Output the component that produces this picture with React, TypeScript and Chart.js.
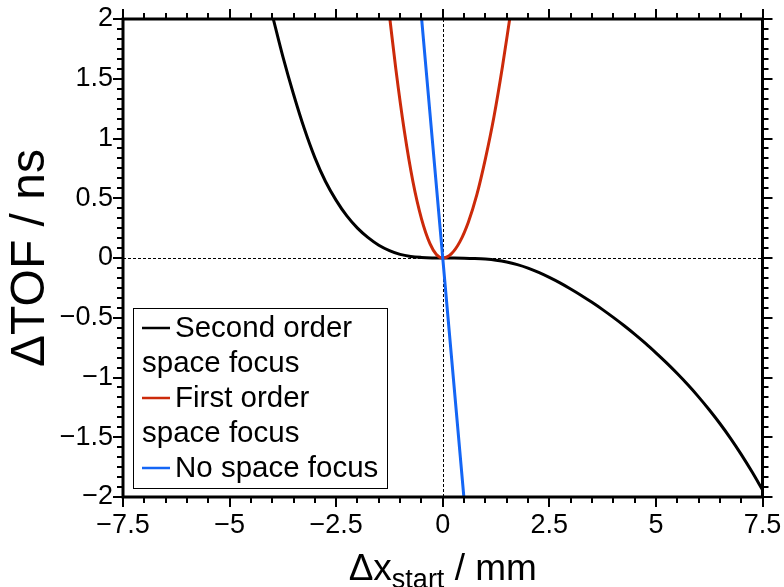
import React, { useEffect, useRef } from 'react';
import { Chart, registerables } from 'chart.js';

Chart.register(...registerables);

// Second order space focus (black)
const secondOrderX = [-3.975, -3.75, -3.5, -3.25, -3.0, -2.75, -2.5, -2.25, -2.0, -1.75, -1.5, -1.25, -1.0, -0.75, -0.5, -0.25, 0,
  0.25, 0.5, 0.75, 1.0, 1.25, 1.5, 1.75, 2.0, 2.25, 2.5, 2.75, 3.0, 3.25, 3.5, 3.75, 4.0, 4.25, 4.5, 4.75, 5.0, 5.25, 5.5, 5.75, 6.0, 6.25, 6.5, 6.75, 7.0, 7.25, 7.5];
const secondOrderY = [2, 1.685, 1.37, 1.085, 0.84, 0.64, 0.482, 0.352, 0.25, 0.17, 0.107, 0.062, 0.03, 0.013, 0.005, 0.001, 0,
  -0.0003, -0.0013, -0.004, -0.009, -0.018, -0.033, -0.055, -0.084, -0.12, -0.162, -0.208, -0.259, -0.313, -0.371, -0.432, -0.497, -0.565, -0.637, -0.713, -0.794, -0.878, -0.967, -1.061, -1.162, -1.27, -1.385, -1.509, -1.643, -1.787, -1.94];

// First order space focus (red)
const firstOrderX = [-1.24, -1.1, -0.9, -0.7, -0.5, -0.3, -0.15, 0, 0.2, 0.4, 0.6, 0.8, 1.0, 1.2, 1.4, 1.57];
const firstOrderY = [2, 1.58, 1.06, 0.64, 0.33, 0.12, 0.03, 0, 0.035, 0.135, 0.3, 0.53, 0.83, 1.18, 1.6, 2];

// No space focus (blue)
const noFocusX = [-0.495, 0, 0.495];
const noFocusY = [2, 0, -2];

const seriesLabels = ['Second order space focus', 'First order space focus', 'No space focus'];
const legendLines = [['Second order', 'space focus'], ['First order', 'space focus'], ['No space focus']];
const seriesColors = ['#000000', '#cc2a0a', '#1466f5'];

const xMin = -7.5, xMax = 7.5, xStep = 2.5;
const yMin = -2, yMax = 2, yStep = 0.5;
const xMinorPerMajor = 5;
const yMinorPerMajor = 6;

const yTitle = 'ΔTOF / ns';
const xTitleMain = 'Δx';
const xTitleSub = 'start';
const xTitleTail = ' / mm';

const FONT = '"Liberation Sans", Arial, Helvetica, sans-serif';

const toPoints = (xs: number[], ys: number[]) => xs.map((x, i) => ({ x, y: ys[i] }));
const fmt = (v: number) => {
  const r = Math.round(v * 1000) / 1000;
  return r < 0 ? '\u2212' + String(-r) : String(r);
};

const zeroPad = (s: any) => {
  s.paddingLeft = 0;
  s.paddingRight = 0;
  s.paddingTop = 0;
  s.paddingBottom = 0;
};

const framePlugin = {
  id: 'igorFrame',
  beforeDatasetsDraw(chart: any) {
    const { ctx, chartArea: a, scales } = chart;
    const x0 = scales.x.getPixelForValue(0);
    const y0 = scales.y.getPixelForValue(0);
    ctx.save();
    ctx.strokeStyle = '#000';
    ctx.lineWidth = 1;
    ctx.setLineDash([3, 2]);
    ctx.beginPath();
    ctx.moveTo(a.left, Math.round(y0) + 0.5);
    ctx.lineTo(a.right, Math.round(y0) + 0.5);
    ctx.moveTo(Math.round(x0) + 0.5, a.top);
    ctx.lineTo(Math.round(x0) + 0.5, a.bottom);
    ctx.stroke();
    ctx.restore();
  },
  afterDatasetsDraw(chart: any) {
    const { ctx, chartArea: a, scales } = chart;
    const xs = scales.x, ys = scales.y;
    ctx.save();
    // ticks
    ctx.strokeStyle = '#000';
    ctx.lineWidth = 2;
    ctx.setLineDash([]);
    ctx.beginPath();
    const nx = Math.round((xMax - xMin) / xStep * xMinorPerMajor);
    for (let i = 0; i <= nx; i++) {
      const v = xMin + (i * xStep) / xMinorPerMajor;
      const p = Math.round(xs.getPixelForValue(v));
      const len = i % xMinorPerMajor === 0 ? 10 : 6;
      ctx.moveTo(p, a.bottom);
      ctx.lineTo(p, a.bottom + len);
      ctx.moveTo(p, a.top);
      ctx.lineTo(p, a.top - len);
    }
    const ny = Math.round((yMax - yMin) / yStep * yMinorPerMajor);
    for (let i = 0; i <= ny; i++) {
      const v = yMin + (i * yStep) / yMinorPerMajor;
      const p = Math.round(ys.getPixelForValue(v));
      const len = i % yMinorPerMajor === 0 ? 10 : 6;
      ctx.moveTo(a.left, p);
      ctx.lineTo(a.left - len, p);
      ctx.moveTo(a.right, p);
      ctx.lineTo(a.right + len, p);
    }
    ctx.stroke();
    // frame
    ctx.lineWidth = 3;
    ctx.lineJoin = 'miter';
    ctx.strokeRect(a.left, a.top, a.right - a.left, a.bottom - a.top);

    // legend
    const lx = 133, ly = 308, lw = 254, lh = 180;
    ctx.fillStyle = '#fff';
    ctx.fillRect(lx, ly, lw, lh);
    ctx.lineWidth = 1;
    ctx.strokeStyle = '#000';
    ctx.strokeRect(lx + 0.5, ly + 0.5, lw, lh);
    ctx.font = `29.5px ${FONT}`;
    ctx.textBaseline = 'middle';
    ctx.textAlign = 'left';
    ctx.fillStyle = '#000';
    let row = 0;
    const rowH = 35;
    legendLines.forEach((lines, si) => {
      lines.forEach((t, li) => {
        const cy = ly + 20 + row * rowH;
        if (li === 0) {
          ctx.strokeStyle = seriesColors[si];
          ctx.lineWidth = 2.5;
          ctx.beginPath();
          ctx.moveTo(142, cy);
          ctx.lineTo(170, cy);
          ctx.stroke();
          ctx.fillText(t, 175, cy + 1);
        } else {
          ctx.fillText(t, 142, cy + 1);
        }
        row++;
      });
    });

    // y title
    ctx.save();
    ctx.translate(31, (a.top + a.bottom) / 2);
    ctx.rotate(-Math.PI / 2);
    ctx.font = `48px ${FONT}`;
    ctx.textAlign = 'center';
    ctx.textBaseline = 'middle';
    ctx.fillText(yTitle, 0, 0);
    ctx.restore();

    // x title with subscript
    const mainFont = `37px ${FONT}`;
    const subFont = `27px ${FONT}`;
    ctx.font = mainFont;
    const w1 = ctx.measureText(xTitleMain).width;
    const w3 = ctx.measureText(xTitleTail).width;
    ctx.font = subFont;
    const w2 = ctx.measureText(xTitleSub).width;
    const total = w1 + w2 + w3;
    let sx = (a.left + a.right) / 2 - total / 2;
    ctx.textAlign = 'left';
    ctx.textBaseline = 'alphabetic';
    ctx.font = mainFont;
    ctx.fillText(xTitleMain, sx, 580);
    sx += w1;
    ctx.font = subFont;
    ctx.fillText(xTitleSub, sx, 588);
    sx += w2;
    ctx.font = mainFont;
    ctx.fillText(xTitleTail, sx, 580);
    ctx.restore();
  },
};

export default function App() {
  const ref = useRef<HTMLCanvasElement | null>(null);
  useEffect(() => {
    document.body.style.margin = '0';
    const canvas = ref.current;
    if (!canvas) return;
    const datasets = [
      { label: seriesLabels[0], data: toPoints(secondOrderX, secondOrderY), borderColor: seriesColors[0], borderWidth: 3, order: 3 },
      { label: seriesLabels[1], data: toPoints(firstOrderX, firstOrderY), borderColor: seriesColors[1], borderWidth: 3, order: 2 },
      { label: seriesLabels[2], data: toPoints(noFocusX, noFocusY), borderColor: seriesColors[2], borderWidth: 3, order: 1 },
    ].map((d) => ({ ...d, showLine: true, pointRadius: 0, fill: false, cubicInterpolationMode: 'monotone' as const, backgroundColor: d.borderColor }));

    const chart = new Chart(canvas, {
      type: 'scatter',
      data: { datasets },
      options: {
        responsive: false,
        animation: false,
        devicePixelRatio: 1,
        layout: { padding: { left: 0, top: 19, right: 21.5, bottom: 0 } },
        plugins: { legend: { display: false }, tooltip: { enabled: false } },
        scales: {
          x: {
            type: 'linear',
            min: xMin,
            max: xMax,
            grid: { display: false, drawTicks: false },
            border: { display: false },
            ticks: { stepSize: xStep, padding: 12, color: '#000', font: { family: FONT, size: 27 }, maxRotation: 0, autoSkip: false, callback: (v: any) => fmt(Number(v)) },
            afterFit: (s: any) => { s.height = 90; zeroPad(s); },
          },
          y: {
            type: 'linear',
            min: yMin,
            max: yMax,
            grid: { display: false, drawTicks: false },
            border: { display: false },
            ticks: { stepSize: yStep, padding: 10, color: '#000', font: { family: FONT, size: 27 }, autoSkip: false, callback: (v: any) => fmt(Number(v)) },
            afterFit: (s: any) => { s.width = 123; zeroPad(s); },
          },
        },
      },
      plugins: [framePlugin],
    });
    return () => chart.destroy();
  }, []);
  return (
    <div style={{ width: 784, height: 587 }}>
      <canvas ref={ref} width={784} height={587} style={{ display: 'block' }} />
    </div>
  );
}
